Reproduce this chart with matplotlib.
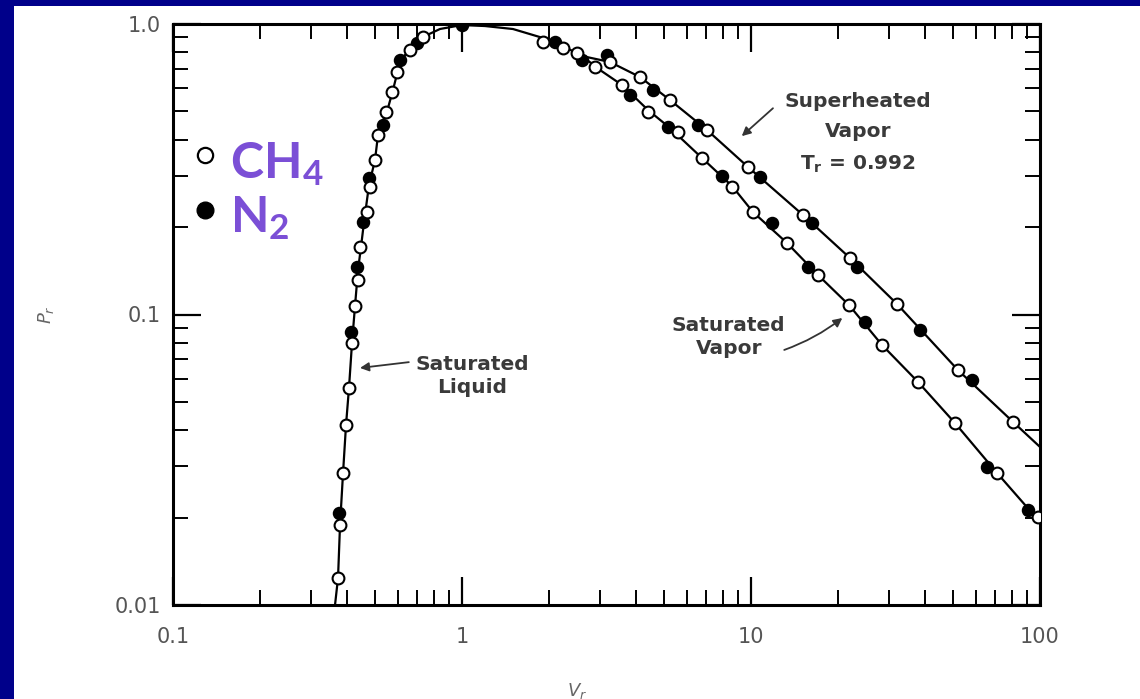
import matplotlib
matplotlib.use("Agg")
import matplotlib.pyplot as plt
from matplotlib.patches import Rectangle

plt.rcParams['mathtext.default'] = 'regular'

# ---------------- data (reduced volume V_r, reduced pressure P_r) ----------------
# saturation dome (liquid branch -> critical point -> saturated vapour branch)
sat_V = [0.3636, 0.3724, 0.3784, 0.3876, 0.3969, 0.4064, 0.4163, 0.4264, 0.4367, 0.4472,
         0.4581, 0.4767, 0.500, 0.5121, 0.5373, 0.5546, 0.577, 0.6005, 0.635, 0.6878,
         0.7447, 0.8392, 1.0, 1.201, 1.501, 1.907, 2.236, 2.601, 3.002, 3.578,
         4.401, 5.245, 6.768, 8.597, 10.16, 13.32, 17.05, 21.83, 28.41, 37.85,
         50.8, 71.0, 100.0]
sat_P = [0.0100, 0.01239, 0.01886, 0.02848, 0.04165, 0.05585, 0.0798, 0.107, 0.1423, 0.1708,
         0.2082, 0.2791, 0.3402, 0.4148, 0.4747, 0.5139, 0.5927, 0.6945, 0.7821, 0.8535,
         0.9093, 0.9612, 0.992, 0.984, 0.961, 0.895, 0.840, 0.776, 0.6945, 0.6166,
         0.5058, 0.4385, 0.3457, 0.2769, 0.2253, 0.1763, 0.1368, 0.1078, 0.0785, 0.05856,
         0.0423, 0.02848, 0.0193]

# superheated vapour isotherm T_r = 0.992
sh_V = [2.601, 3.252, 4.128, 5.245, 7.044, 9.763, 15.13, 22.0, 32.0, 52.0, 80.65, 100.0]
sh_P = [0.776, 0.7398, 0.657, 0.5474, 0.4316, 0.322, 0.2201, 0.1565, 0.1087, 0.0644, 0.0427, 0.035]

# CH4 (open circles)
ch4_V = [0.372, 0.378, 0.388, 0.397, 0.406, 0.416, 0.426, 0.437, 0.4436, 0.469, 0.4806, 0.500,
         0.512, 0.5458, 0.5725, 0.5958, 0.6608, 0.7328,
         1.907, 2.236, 2.500, 2.885, 3.578, 4.401, 5.589, 6.768, 8.597, 10.16, 13.32, 17.05,
         21.83, 28.41, 37.85, 50.8, 71.0, 98.4,
         3.252, 4.128, 5.245, 7.044, 9.763, 15.13, 22.0, 32.0, 52.0, 80.65]
ch4_P = [0.0124, 0.0189, 0.0285, 0.0417, 0.0559, 0.0798, 0.107, 0.1315, 0.1708, 0.2253, 0.2748, 0.340,
         0.415, 0.4979, 0.5834, 0.6836, 0.8139, 0.902,
         0.867, 0.827, 0.795, 0.711, 0.6166, 0.498, 0.4248, 0.3457, 0.2748, 0.2253, 0.1763, 0.1368,
         0.1078, 0.0785, 0.0586, 0.0423, 0.0285, 0.0201,
         0.740, 0.657, 0.547, 0.432, 0.322, 0.220, 0.1565, 0.1087, 0.0644, 0.0427]

# N2 (filled circles)
n2_V = [0.3754, 0.413, 0.4333, 0.4545, 0.4767, 0.533, 0.6103, 0.6989, 1.0,
        2.098, 2.601, 3.814, 5.162, 7.939, 11.82, 15.75, 24.80, 65.55, 90.9,
        3.176, 4.58, 6.556, 10.74, 16.26, 23.28, 38.45, 58.2]
n2_P = [0.0207, 0.0871, 0.1457, 0.2082, 0.2951, 0.449, 0.752, 0.860, 0.992,
        0.867, 0.752, 0.5695, 0.4419, 0.2998, 0.2065, 0.1457, 0.0942, 0.0299, 0.0212,
        0.782, 0.593, 0.449, 0.2975, 0.2065, 0.1457, 0.0885, 0.0595]

x_ticks = [0.1, 1, 10, 100]
x_ticklabels = ['0.1', '1', '10', '100']
y_ticks = [0.01, 0.1, 1.0]
y_ticklabels = ['0.01', '0.1', '1.0']

# ---------------- figure ----------------
W, H = 1140, 699
fig = plt.figure(figsize=(W / 100, H / 100), dpi=100, facecolor='#00008a')
fig.add_artist(Rectangle((14 / W, 0), 1 - 14 / W, (H - 6) / H, transform=fig.transFigure,
                         facecolor='white', edgecolor='none', zorder=-5))

ax = fig.add_axes([173 / W, 1 - 605 / H, (1040 - 173) / W, (605 - 24) / H])
ax.set_facecolor('white')
ax.set_xscale('log')
ax.set_yscale('log')
ax.set_xlim(0.1, 100)
ax.set_ylim(0.01, 1.0)

ax.plot(sat_V, sat_P, color='black', lw=1.6, zorder=2)
ax.plot(sh_V, sh_P, color='black', lw=1.6, zorder=2)
ax.plot(n2_V, n2_P, ls='none', marker='o', ms=8.5, mfc='black', mec='black', mew=1.2, zorder=3)
ax.plot(ch4_V, ch4_P, ls='none', marker='o', ms=8.5, mfc='white', mec='black', mew=1.5, zorder=4)

ax.set_xticks(x_ticks)
ax.set_xticklabels(x_ticklabels)
ax.set_yticks(y_ticks)
ax.set_yticklabels(y_ticklabels)
ax.tick_params(which='both', direction='in', top=True, right=True, colors='black')
ax.tick_params(which='major', length=20, width=1.6)
ax.tick_params(which='minor', length=11, width=1.4)
ax.tick_params(axis='x', which='major', pad=16, labelsize=15, labelcolor='#555555')
ax.tick_params(axis='y', which='major', pad=9, labelsize=15, labelcolor='#555555')
for s in ax.spines.values():
    s.set_linewidth(2.2)
    s.set_color('black')

ax.set_ylabel(r'$\mathit{P}_{\mathit{r}}$', color='#666666', fontsize=13, rotation=90)
ax.yaxis.set_label_coords(-0.135, 0.5)
ax.set_xlabel(r'$\mathit{V}_{\mathit{r}}$', color='#666666', fontsize=13)
ax.xaxis.set_label_coords(0.466, -0.13)

# annotations
tcol = '#3a3a3a'
tfont = dict(fontsize=14.5, color=tcol, fontweight='bold', family='DejaVu Sans')
aprops = dict(arrowstyle='-|>', color='#333333', lw=1.3, mutation_scale=13, shrinkA=0, shrinkB=0)
ax.text(0.345, 0.394, 'Saturated\nLiquid', transform=ax.transAxes, ha='center', va='center',
        linespacing=1.3, **tfont)
ax.annotate('', xy=(0.2157, 0.408), xytext=(0.272, 0.418), xycoords='axes fraction',
            textcoords='axes fraction', arrowprops=aprops)

ax.text(0.641, 0.461, 'Saturated\nVapor', transform=ax.transAxes, ha='center', va='center',
        linespacing=1.3, **tfont)
ax.annotate('', xy=(0.772, 0.494), xytext=(0.705, 0.439), xycoords='axes fraction',
            textcoords='axes fraction',
            arrowprops=dict(aprops, connectionstyle='arc3,rad=0.08'))

ax.text(0.790, 0.812, 'Superheated\nVapor\nT$_r$ = 0.992', transform=ax.transAxes,
        ha='center', va='center', linespacing=1.75, **tfont)
ax.annotate('', xy=(0.656, 0.807), xytext=(0.692, 0.855), xycoords='axes fraction',
            textcoords='axes fraction', arrowprops=aprops)

# legend (hand-placed)
ax.plot([0.0369], [0.7745], transform=ax.transAxes, marker='o', ms=11, mfc='white',
        mec='black', mew=1.6, clip_on=False, ls='none')
ax.plot([0.0369], [0.680], transform=ax.transAxes, marker='o', ms=12, mfc='black',
        mec='black', clip_on=False, ls='none')
purple = '#7b4fd6'
ax.text(0.066, 0.735, 'CH$_4$', transform=ax.transAxes, ha='left', va='baseline',
        fontsize=36, color=purple, fontweight='bold', family='Lato')
ax.text(0.066, 0.642, 'N$_2$', transform=ax.transAxes, ha='left', va='baseline',
        fontsize=36, color=purple, fontweight='bold', family='Lato')

fig.savefig('out.png', dpi=100, facecolor=fig.get_facecolor())
